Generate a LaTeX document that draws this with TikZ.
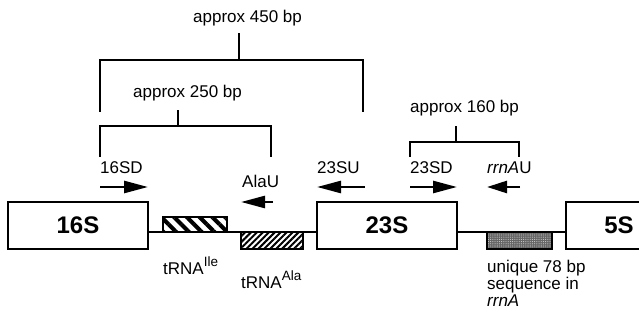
\documentclass[tikz,border=0pt]{standalone}
\usepackage{fontspec}
\setmainfont{Liberation Sans}
\usetikzlibrary{arrows.meta,patterns.meta}
\begin{document}
\begin{tikzpicture}[x=1pt,y=-1pt,
  gene/.style={draw, line width=1.6pt, fill=white, inner sep=0pt,
    minimum height=47pt, font=\fontsize{24}{24}\selectfont\bfseries},
  smallbox/.style={draw, line width=1.4pt, inner sep=0pt},
  lbl/.style={inner sep=0pt, anchor=base west, font=\fontsize{17}{17}\selectfont},
  bracket/.style={line width=1.8pt},
  primer/.style={line width=2.6pt, -{Triangle[length=24pt,width=12pt]}},
  dna/.style={line width=1.3pt}
]
\useasboundingbox (0,0) rectangle (639,323);
% baseline reference
\coordinate (ln) at (0,232);
% genes
\node[gene, minimum width=140pt] (g16) at (78,225.5) {16S};
\node[gene, minimum width=140pt] (g23) at (387,225.5) {23S};
\node[gene, minimum width=106pt] (g5) at (619,225.5) {5S};
% DNA line
\draw[dna] (g16.east |- ln) -- (g23.west |- ln);
\draw[dna] (g23.east |- ln) -- (g5.west |- ln);
% small boxes
\node[smallbox, minimum width=64pt, minimum height=15pt,
  preaction={fill=white},
  pattern={Lines[angle=-45,distance=9pt,line width=4pt]}] (ile) at (195,224.5) {};
\node[smallbox, minimum width=62pt, minimum height=17pt,
  preaction={fill=white},
  pattern={Lines[angle=45,distance=4.2pt,line width=2pt]}] (ala) at (272,240.5) {};
\node[smallbox, minimum width=65pt, minimum height=17pt,
  preaction={fill=black!60},
  pattern={Dots[distance=2.2pt,radius=0.55pt]}, pattern color=white!80!black] (uni) at (519.5,240.5) {};
% labels below
\node[lbl] (tile) at (163,274) {tRNA\raisebox{8pt}{\fontsize{13.5}{13.5}\selectfont Ile}};
\node[lbl] (tala) at (241,288) {tRNA\raisebox{8pt}{\fontsize{13.5}{13.5}\selectfont Ala}};
\node[lbl, align=left, anchor=north west, font=\fontsize{17}{17}\selectfont] (uq) at (487,260)
  {unique 78 bp\\sequence in\\\itshape rrnA};
% primers
\coordinate (p1a) at (100,187); \coordinate (p1b) at (148,187);
\coordinate (p2a) at (273,202); \coordinate (p2b) at (241,202);
\coordinate (p3a) at (365,187); \coordinate (p3b) at (317,187);
\coordinate (p4a) at (410,187); \coordinate (p4b) at (457,187);
\coordinate (p5a) at (520,187); \coordinate (p5b) at (487,187);
\draw[primer] (p1a) -- (p1b);
\draw[primer] (p2a) -- (p2b);
\draw[primer] (p3a) -- (p3b);
\draw[primer] (p4a) -- (p4b);
\draw[primer, -{Triangle[length=20pt,width=12pt]}] (p5a) -- (p5b);
\node[lbl] (l16sd) at (100,173) {16SD};
\node[lbl] (lalau) at (242,187) {AlaU};
\node[lbl] (l23su) at (317,174) {23SU};
\node[lbl] (l23sd) at (410,174) {23SD};
\node[lbl] (lrrn) at (487,174) {\itshape rrnA\upshape U};
% brackets
\node[lbl] (a450) at (193,23) {approx 450 bp};
\node[lbl] (a250) at (133,98) {approx 250 bp};
\node[lbl] (a160) at (410,113) {approx 160 bp};
\coordinate (b450l) at (100,112); \coordinate (b450r) at (363,112);
\coordinate (b450t) at (239,60);
\coordinate (b250l) at (100,157); \coordinate (b250r) at (271,157);
\coordinate (b250t) at (178,126);
\coordinate (b160l) at (410,157); \coordinate (b160r) at (519,157);
\coordinate (b160t) at (456,142);
\draw[bracket] (b450l) |- (b450t) -| (b450r);
\draw[bracket] (b450t) -- ++(0,-27);
\draw[bracket] (b250l) |- (b250t) -| (b250r);
\draw[bracket] (b250t) -- ++(0,-16);
\draw[bracket] (b160l) |- (b160t) -| (b160r);
\draw[bracket] (b160t) -- ++(0,-16);
\end{tikzpicture}
\end{document}
